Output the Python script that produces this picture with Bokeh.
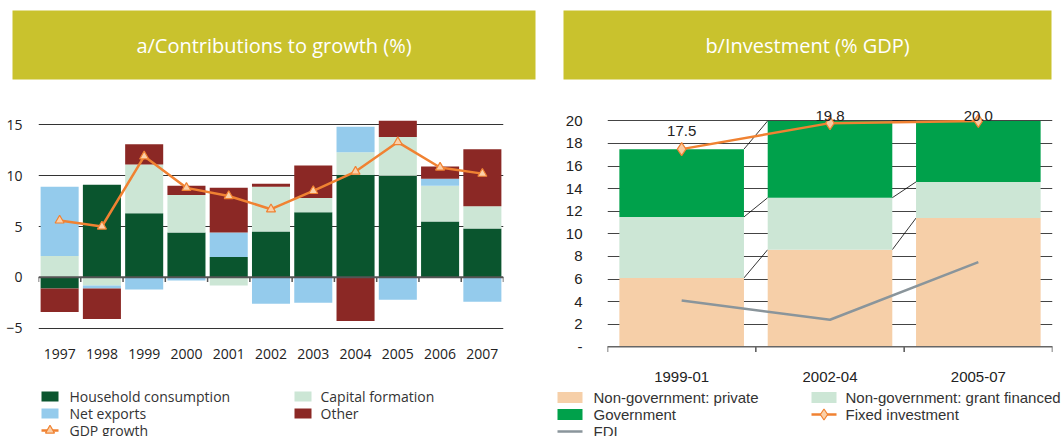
from bokeh.plotting import figure
from bokeh.models import FactorRange, Range1d, Span, ColumnDataSource
from bokeh.transform import dodge
from bokeh.layouts import row, column
from bokeh.core.properties import value
from bokeh.embed import file_html
from bokeh.resources import INLINE

# ---------------- data: panel a ----------------
years = ["1997", "1998", "1999", "2000", "2001", "2002", "2003", "2004", "2005", "2006", "2007"]
household = [-1.1, 9.1, 6.3, 4.4, 2.0, 4.5, 6.4, 10.1, 10.0, 5.5, 4.8]
capital = [2.1, -0.8, 4.8, 3.7, -0.8, 4.4, 1.4, 2.2, 3.8, 3.5, 2.2]
net_exports = [6.8, -0.3, -1.2, -0.3, 2.4, -2.6, -2.5, 2.5, -2.2, 0.7, -2.4]
other = [-2.3, -3.0, 2.0, 0.9, 4.4, 0.3, 3.2, -4.3, 1.6, 1.2, 5.6]
gdp_growth = [5.6, 5.0, 11.9, 8.8, 8.0, 6.7, 8.5, 10.4, 13.3, 10.8, 10.2]
a_ticks = [-5, 0, 5, 10, 15]

# ---------------- data: panel b ----------------
periods = ["1999-01", "2002-04", "2005-07"]
private = [6.1, 8.6, 11.4]
grant = [5.4, 4.6, 3.2]
government = [6.0, 6.8, 5.4]
fixed_investment = [17.5, 19.8, 20.0]
fdi = [4.1, 2.4, 7.5]
b_ticks = [0, 2, 4, 6, 8, 10, 12, 14, 16, 18, 20]

# label placement (style): pixel offsets of the value labels
label_offsets = [-13, -2, 0]

OLIVE = "#C9C22D"
C_HH, C_CF, C_NX, C_OT = "#0A552E", "#CCE6D5", "#94CBEC", "#8B2825"
C_PRIV, C_GRANT, C_GOV = "#F6CFA8", "#CCE6D5", "#00A14B"
ORANGE = "#F08232"
GREY = "#8A959B"
FA = "Open Sans"
FB = "Liberation Sans"

WA, WB = 549, 512


def no_align(fig):
    try:
        fig.frame_align = False
    except Exception:
        pass
    return fig


def title_fig(text, width, left, right):
    t = figure(width=width, height=88, x_range=Range1d(0, 1), y_range=Range1d(0, 1),
               x_axis_type=None, y_axis_type=None, output_backend="svg", toolbar_location=None,
               min_border_left=left, min_border_right=right, min_border_top=10, min_border_bottom=9,
               background_fill_color=OLIVE, border_fill_color="white", outline_line_color=None)
    t.grid.visible = False
    t.text(x=[0.5], y=[0.5], text=[text], text_align="center", text_baseline="middle",
           text_color="white", text_font=value(FA), text_font_size="20px")
    return no_align(t)


# ---------------- panel a chart ----------------
pa = figure(width=WA, height=296, x_range=FactorRange(factors=years, range_padding=0),
            y_range=Range1d(-6.01, 17.39), output_backend="svg", toolbar_location=None,
            min_border_left=38, min_border_right=46, min_border_top=12, min_border_bottom=46,
            outline_line_color=None)
no_align(pa)
pa.xgrid.grid_line_color = None
pa.ygrid.grid_line_color = "#333333"
pa.ygrid.grid_line_width = 1
pa.yaxis.ticker = a_ticks
for ax in (pa.xaxis, pa.yaxis):
    ax.axis_line_color = None
    ax.major_tick_line_color = None
    ax.minor_tick_line_color = None
    ax.major_label_text_font = FA
    ax.major_label_text_font_size = "14px"
    ax.major_label_text_color = "#222222"
pa.yaxis.major_label_standoff = 10
pa.xaxis.major_label_standoff = 4

pos = [0.0] * len(years)
neg = [0.0] * len(years)
for vals, col in [(household, C_HH), (capital, C_CF), (net_exports, C_NX), (other, C_OT)]:
    bot, top = [], []
    for i, v in enumerate(vals):
        if v >= 0:
            bot.append(pos[i]); top.append(pos[i] + v); pos[i] += v
        else:
            top.append(neg[i]); bot.append(neg[i] + v); neg[i] += v
    src = ColumnDataSource(dict(x=years, bottom=bot, top=top))
    pa.vbar(x="x", bottom="bottom", top="top", width=0.9, source=src, fill_color=col, line_color=None)

pa.add_layout(Span(location=0, dimension="width", line_color="#555555", line_width=2))
tick_a = ColumnDataSource(dict(f=years))
pa.segment(x0=dodge("f", -0.5, range=pa.x_range), x1=dodge("f", -0.5, range=pa.x_range),
           y0=0, y1=-0.45, source=tick_a, line_color="#555555", line_width=1.5)
tick_a2 = ColumnDataSource(dict(f=years[-1:]))
pa.segment(x0=dodge("f", 0.5, range=pa.x_range), x1=dodge("f", 0.5, range=pa.x_range),
           y0=0, y1=-0.45, source=tick_a2, line_color="#555555", line_width=1.5)

pa.line(x=years, y=gdp_growth, line_color=ORANGE, line_width=2.5)
pa.scatter(x=years, y=gdp_growth, marker="triangle", size=9, fill_color="#FBD0A8",
           line_color=ORANGE, line_width=1.2)

# ---------------- panel b chart ----------------
pb = figure(width=WB, height=296, x_range=FactorRange(factors=periods, range_padding=0),
            y_range=Range1d(-0.5, 21.45), output_backend="svg", toolbar_location=None,
            min_border_left=58, min_border_right=9, min_border_top=16, min_border_bottom=32,
            outline_line_color=None)
no_align(pb)
pb.xgrid.grid_line_color = None
pb.ygrid.grid_line_color = "#444444"
pb.ygrid.grid_line_width = 1
pb.yaxis.ticker = b_ticks
pb.yaxis.major_label_overrides = {0: "-"}
for ax in (pb.xaxis, pb.yaxis):
    ax.axis_line_color = None
    ax.major_tick_line_color = None
    ax.minor_tick_line_color = None
    ax.major_label_text_font = FB
    ax.major_label_text_font_size = "15px"
    ax.major_label_text_color = "#222222"
pb.yaxis.major_label_standoff = 19
pb.xaxis.major_label_standoff = 13

src_b = ColumnDataSource(dict(period=periods, private=private, grant=grant, government=government))

# connector lines between stacked segment tops
cum1 = private
cum2 = [a + b for a, b in zip(private, grant)]
cum3 = [a + b + c for a, b, c in zip(private, grant, government)]
c0, c1, y0, y1 = [], [], [], []
for cum in (cum1, cum2, cum3):
    for i in range(len(periods) - 1):
        c0.append(periods[i]); c1.append(periods[i + 1]); y0.append(cum[i]); y1.append(cum[i + 1])
conn = ColumnDataSource(dict(c0=c0, c1=c1, y0=y0, y1=y1))
pb.segment(x0=dodge("c0", 0.42, range=pb.x_range), x1=dodge("c1", -0.42, range=pb.x_range),
           y0="y0", y1="y1", source=conn, line_color="black", line_width=0.8)

pb.vbar_stack(["private", "grant", "government"], x="period", width=0.84, source=src_b,
              fill_color=[C_PRIV, C_GRANT, C_GOV], line_color=None)

pb.add_layout(Span(location=0, dimension="width", line_color="#666666", line_width=1.5))
tick_b = ColumnDataSource(dict(f=periods))
pb.segment(x0=dodge("f", -0.5, range=pb.x_range), x1=dodge("f", -0.5, range=pb.x_range),
           y0=0, y1=-0.45, source=tick_b, line_color="#555555", line_width=1.5)
tick_b2 = ColumnDataSource(dict(f=periods[-1:]))
pb.segment(x0=dodge("f", 0.5, range=pb.x_range), x1=dodge("f", 0.5, range=pb.x_range),
           y0=0, y1=-0.45, source=tick_b2, line_color="#555555", line_width=1.5)

pb.line(x=periods, y=fdi, line_color=GREY, line_width=2.5)
pb.line(x=periods, y=fixed_investment, line_color=ORANGE, line_width=2.5)
pb.scatter(x=periods, y=fixed_investment, marker="diamond", size=13, fill_color="#F9CBA3",
           line_color=ORANGE, line_width=1.2)
lab_src = ColumnDataSource(dict(x=periods, y=fixed_investment,
                                t=[f"{v:.1f}" for v in fixed_investment], off=label_offsets))
pb.text(x="x", y="y", text="t", y_offset="off", source=lab_src,
        text_align="center", text_baseline="bottom",
        text_font=value(FB), text_font_size="15px", text_color="#222222")


# ---------------- legends ----------------
def legend_fig(width, items, sq_w, sq_h, font, size):
    lg = figure(width=width, height=52, x_range=Range1d(0, width), y_range=Range1d(52, 0),
                x_axis_type=None, y_axis_type=None, output_backend="svg", toolbar_location=None,
                min_border=0, outline_line_color=None)
    lg.grid.visible = False
    for (label, kind, color, marker, xs, tx, yy) in items:
        if kind == "box":
            lg.rect(x=[xs + sq_w / 2], y=[yy], width=sq_w, height=sq_h, fill_color=color, line_color=None)
        else:
            lg.segment(x0=[xs], x1=[xs + sq_w], y0=[yy], y1=[yy], line_color=color, line_width=2.5)
            if marker:
                lg.scatter(x=[xs + sq_w / 2], y=[yy], marker=marker, size=9 if marker == "triangle" else 11,
                           fill_color="#FBD0A8", line_color=ORANGE, line_width=1.2)
        lg.text(x=[tx], y=[yy], text=[label], text_baseline="middle", text_align="left",
                text_font=value(font), text_font_size=size, text_color="#333333")
    return no_align(lg)


leg_a_items = [
    ("Household consumption", "box", C_HH, None, 41, 69, 12),
    ("Capital formation", "box", C_CF, None, 294, 320, 12),
    ("Net exports", "box", C_NX, None, 41, 69, 29),
    ("Other", "box", C_OT, None, 294, 320, 29),
    ("GDP growth", "line", ORANGE, "triangle", 41, 69, 46),
]
leg_b_items = [
    ("Non-government: private", "box", C_PRIV, None, 8, 44, 13),
    ("Non-government: grant financed", "box", C_GRANT, None, 262, 296, 13),
    ("Government", "box", C_GOV, None, 8, 44, 30),
    ("Fixed investment", "line", ORANGE, "diamond", 262, 296, 30),
    ("FDI", "line", GREY, None, 8, 44, 47),
]
la = legend_fig(WA, leg_a_items, 17, 10, FA, "14px")
lb = legend_fig(WB, leg_b_items, 25, 11, FB, "15px")

ta = title_fig("a/Contributions to growth (%)", WA, 12, 14)
tb = title_fig("b/Investment (% GDP)", WB, 14, 10)

layout = row(column(ta, pa, la), column(tb, pb, lb))
open("out.html", "w").write(file_html(layout, INLINE))
